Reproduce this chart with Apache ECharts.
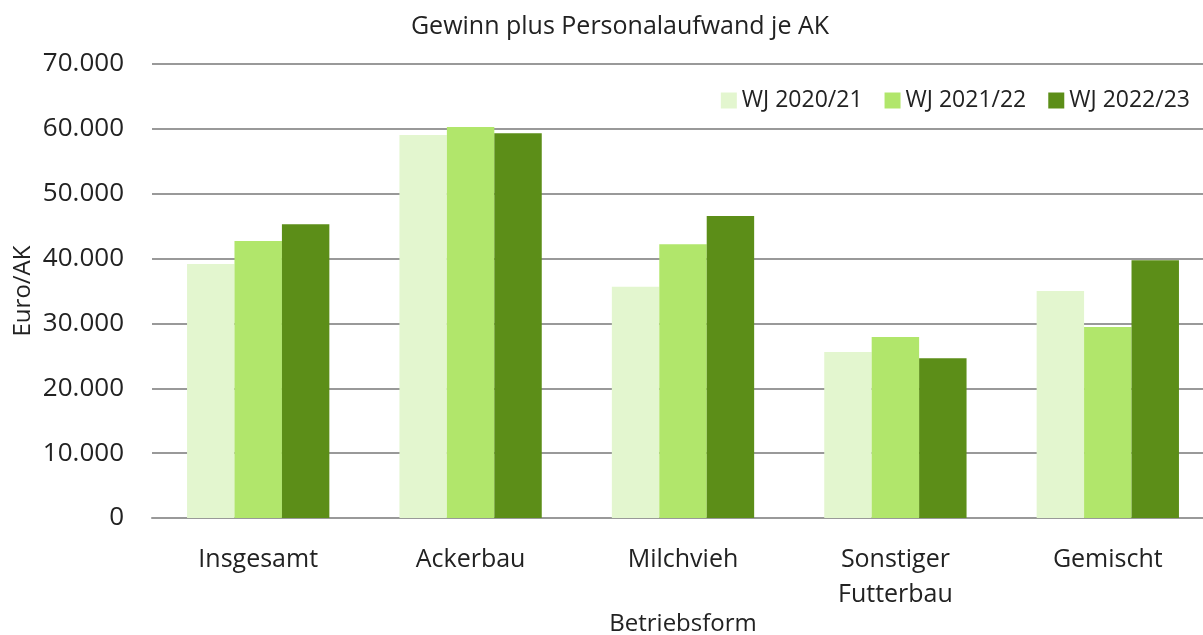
<!DOCTYPE html>
<html>
<head>
<meta charset="utf-8">
<script src="https://cdn.jsdelivr.net/npm/echarts@6/dist/echarts.min.js"></script>
<style>
  html, body { margin: 0; padding: 0; background: #fff; }
  #chart { width: 1203px; height: 635px; }
</style>
</head>
<body>
<div id="chart"></div>
<script>
let categories = ['Insgesamt', 'Ackerbau', 'Milchvieh', 'Sonstiger\nFutterbau', 'Gemischt']
let seriesNames = ['WJ 2020/21', 'WJ 2021/22', 'WJ 2022/23']
let wj2021 = [39160, 59050, 35670, 25590, 35000]
let wj2122 = [42710, 60280, 42190, 27910, 29450]
let wj2223 = [45280, 59310, 46560, 24620, 39730]
let baseColor = ['#e3f6cf', '#b1e66b', '#5c8e18']

let fontName = '"Open Sans", "Noto Sans", sans-serif'

function fmt(v) {
  return String(v).replace(/\B(?=(\d{3})+(?!\d))/g, '.')
}

let chart = echarts.init(document.getElementById('chart'))
let values = [wj2021, wj2122, wj2223]

let option = {
  color: baseColor,
  animation: false,
  textStyle: { fontFamily: fontName },
  title: {
    text: 'Gewinn plus Personalaufwand je AK',
    left: 615,
    textAlign: 'center',
    top: 9,
    textStyle: { fontSize: 25, fontWeight: 'normal', color: '#222', fontFamily: fontName }
  },
  legend: {
    right: 8,
    top: 84,
    itemWidth: 16,
    itemHeight: 16,
    itemGap: 22,
    icon: 'rect',
    textStyle: { fontSize: 23, color: '#222', fontFamily: fontName },
    data: seriesNames
  },
  grid: { left: 152, width: 1062, top: 64, bottom: 117, outerBoundsMode: 'none' },
  xAxis: {
    type: 'category',
    data: categories,
    name: 'Betriebsform',
    nameLocation: 'middle',
    nameGap: 94,
    nameMoveOverlap: false,
    nameTextStyle: { fontSize: 24, color: '#222', fontFamily: fontName },
    axisLine: { lineStyle: { color: '#999', width: 2 } },
    axisTick: { show: false },
    axisLabel: { fontSize: 25, color: '#222', margin: 24, lineHeight: 35, fontFamily: fontName }
  },
  yAxis: {
    type: 'value',
    min: 0,
    max: 70000,
    interval: 10000,
    name: 'Euro/AK',
    nameLocation: 'middle',
    nameGap: 117,
    nameMoveOverlap: false,
    nameTextStyle: { fontSize: 24, color: '#222', fontFamily: fontName },
    axisLine: { show: false },
    axisTick: { show: false },
    axisLabel: { fontSize: 26, color: '#222', margin: 28, formatter: fmt, fontFamily: fontName },
    splitLine: { lineStyle: { color: '#999', width: 2 } }
  },
  series: seriesNames.map((n, i) => ({
    name: n,
    type: 'bar',
    data: values[i],
    barGap: '0%',
    barCategoryGap: '33%'
  }))
}
chart.setOption(option)
</script>
</body>
</html>
